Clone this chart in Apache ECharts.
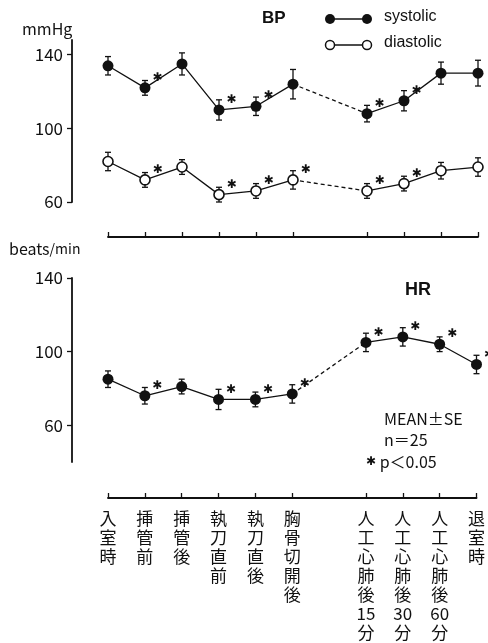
<!DOCTYPE html>
<html><head><meta charset="utf-8">
<script src="https://cdn.jsdelivr.net/npm/echarts@6/dist/echarts.min.js"></script>
<style>html,body{margin:0;padding:0;background:#fff}#c{width:488px;height:643px}</style>
</head><body><div id="c"></div>
<script>
const categories = ['入室時','挿管前','挿管後','執刀直前','執刀直後','胸骨切開後','','人工心肺後15分','人工心肺後30分','人工心肺後60分','退室時'];
const sysMean = [134,122,135,110,112,124,null,108,115,130,130];
const sysSE   = [5,4,6,5.5,5,8,null,4.5,5.5,6,7];
const sysSig  = [0,1,0,1,1,0,null,1,1,0,0];
const diaMean = [82,72,79,64,66,72,null,66,70,77,79];
const diaSE   = [5,4,4,4,4,5,null,4,4,4.5,5];
const diaSig  = [0,1,0,1,1,1,null,1,1,0,0];
const hrMean  = [85,76,81,74,74,77,null,105,108,104,93];
const hrSE    = [4.5,4.5,4,5.5,4,5,null,5,5,4,5];
const hrSig   = [0,1,0,1,1,1,null,1,1,1,1];
const bpTicks = [60,100,140];
const hrTicks = [60,100,140];

const FONT = '"Noto Sans CJK JP", "Noto Sans", sans-serif';
const gapIdx = categories.indexOf('');
const C = '#111';

function bridge(arr){ return arr.map((v,i)=> (i===gapIdx-1||i===gapIdx+1) ? v : null); }
function errData(m, s){ const out=[]; m.forEach((v,i)=>{ if(v!=null) out.push([i,v,s[i]]); }); return out; }
function errSeries(m, s, idx){
  return {type:'custom', xAxisIndex:idx, yAxisIndex:idx, z:1, silent:true,
    data: errData(m,s),
    renderItem(params, api){
      const i=api.value(0), v=api.value(1), e=api.value(2);
      const t=api.coord([i,v+e]), b=api.coord([i,v-e]); const w=3;
      const st={stroke:C,lineWidth:1.3};
      return {type:'group',children:[
        {type:'line',shape:{x1:t[0],y1:t[1],x2:b[0],y2:b[1]},style:st},
        {type:'line',shape:{x1:t[0]-w,y1:t[1],x2:t[0]+w,y2:t[1]},style:st},
        {type:'line',shape:{x1:b[0]-w,y1:b[1],x2:b[0]+w,y2:b[1]},style:st}
      ]};
    }};
}
function lineSeries(m, sig, idx, open){
  return {type:'line', xAxisIndex:idx, yAxisIndex:idx, z:3, data:m, connectNulls:false,
    symbol:'circle', symbolSize: open?10:11,
    itemStyle: open?{color:'#fff',borderColor:C,borderWidth:1.6}:{color:C,borderColor:C,borderWidth:0},
    lineStyle:{color:C,width:1.3},
    label:{show:true, position:'right', offset:[-3,-10], color:C, fontSize:12, fontFamily:'DejaVu Sans',
      formatter:p=> sig[p.dataIndex] ? '✱' : ''},
    animation:false};
}
function dashSeries(m, idx){
  return {type:'line', xAxisIndex:idx, yAxisIndex:idx, z:2, data:bridge(m), connectNulls:true,
    symbol:'none', lineStyle:{color:C,width:1.3,type:[4,3]}, animation:false};
}
function xAx(idx, labels){
  return {type:'category', gridIndex:idx, data:categories, boundaryGap:false, offset: idx===0?35:36,
    axisLine:{lineStyle:{color:C,width:1.8}},
    axisTick:{inside:true,length:5,interval:(i,v)=>v!=='',lineStyle:{color:C,width:1.3}},
    axisLabel:{show:labels, interval:(i,v)=>v!=='', margin:11, color:C, fontFamily:FONT, fontSize:17, lineHeight:19,
      formatter:v=> (v.match(/\d+|./g)||[]).join('\n')},
    splitLine:{show:false}};
}
function yAx(idx, min, max, ticks){
  return {type:'value', gridIndex:idx, min, max, offset:36,
    axisLine:{show:true,lineStyle:{color:C,width:1.8}},
    axisTick:{show:true,length:5,customValues:ticks,lineStyle:{color:C,width:1.3}},
    axisLabel:{customValues:ticks, margin:9, color:C, fontFamily:FONT, fontSize:17},
    splitLine:{show:false}};
}

const chart = echarts.init(document.getElementById('c'), null, {renderer:'canvas'});
const tx = (l,t,s,o)=>Object.assign({type:'text',left:l,top:t,style:Object.assign({text:s,fill:C,font:'16px '+FONT},o||{})});
chart.setOption({
  animation:false,
  backgroundColor:'#fff',
  grid:[{left:108,right:10,top:40,height:162},{left:108,right:10,top:278,height:184}],
  xAxis:[xAx(0,false), xAx(1,true)],
  yAxis:[yAx(0,60,148,bpTicks), yAx(1,40,140,hrTicks)],
  series:[
    errSeries(sysMean,sysSE,0), errSeries(diaMean,diaSE,0), errSeries(hrMean,hrSE,1),
    dashSeries(sysMean,0), dashSeries(diaMean,0), dashSeries(hrMean,1),
    lineSeries(sysMean,sysSig,0,false), lineSeries(diaMean,diaSig,0,true), lineSeries(hrMean,hrSig,1,false)
  ],
  graphic:[
    tx(22,21,'mmHg'),
    {type:'text',left:9,top:241,style:{text:'{a|beats}{b|/min}',rich:{a:{fontSize:16,fontFamily:FONT,fill:C},b:{fontSize:14,fontFamily:FONT,fill:C}}}},
    tx(262,10,'BP',{font:'bold 17px "Liberation Sans", Arial, sans-serif'}),
    {type:'line',shape:{x1:330,y1:19,x2:367,y2:19},style:{stroke:C,lineWidth:1.3}},
    {type:'circle',shape:{cx:330,cy:19,r:5},style:{fill:C}},
    {type:'circle',shape:{cx:367,cy:19,r:5},style:{fill:C}},
    tx(384,9,'systolic',{font:'16px "Liberation Sans", Arial, sans-serif'}),
    {type:'line',shape:{x1:330,y1:45,x2:367,y2:45},style:{stroke:C,lineWidth:1.3}},
    {type:'circle',shape:{cx:330,cy:45,r:4.5},style:{fill:'#fff',stroke:C,lineWidth:1.5}},
    {type:'circle',shape:{cx:367,cy:45,r:4.5},style:{fill:'#fff',stroke:C,lineWidth:1.5}},
    tx(384,35,'diastolic',{font:'16px "Liberation Sans", Arial, sans-serif'}),
    tx(405,281,'HR',{font:'bold 18px "Liberation Sans", Arial, sans-serif'}),
    tx(384,411,'MEAN±SE'),
    tx(384,432,'n＝25'),
    tx(366,454,'{s|✱} p＜0.05',{rich:{s:{font:'12px "DejaVu Sans"',fill:C}}})
  ]
});
</script></body></html>
